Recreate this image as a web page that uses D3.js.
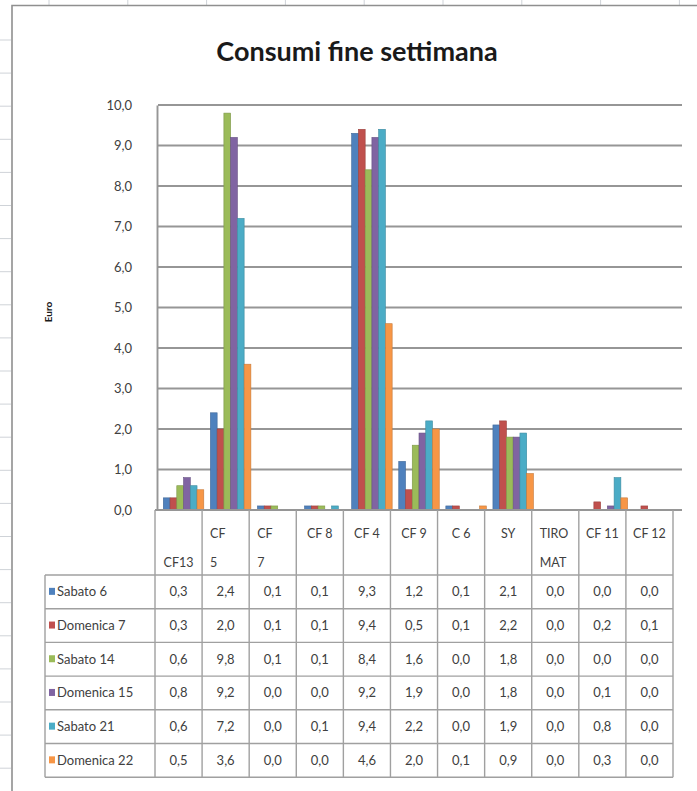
<!DOCTYPE html>
<html>
<head>
<meta charset="utf-8">
<script src="https://cdn.jsdelivr.net/npm/d3@7"></script>
<style>
  html, body { margin: 0; padding: 0; background: #fff; overflow: hidden; }
  svg { display: block; }
  text { font-family: Lato, "Open Sans", sans-serif; }
</style>
</head>
<body>
<svg id="chart" width="697" height="791"></svg>
<script>
// Weekend spending per vending item (euro)
const categories = ["CF13", "CF 5", "CF 7", "CF 8", "CF 4", "CF 9", "C 6", "SY", "TIRO MAT", "CF 11", "CF 12"];
// Header lines as written in the data table
const categoryLines = [["", "CF13"], ["CF", "5"], ["CF", "7"], ["CF 8"], ["CF 4"], ["CF 9"], ["C 6"], ["SY"], ["TIRO", "MAT"], ["CF 11"], ["CF 12"]];
const seriesNames = ["Sabato 6", "Domenica 7", "Sabato 14", "Domenica 15", "Sabato 21", "Domenica 22"];
const sabato6    = [0.3, 2.4, 0.1, 0.1, 9.3, 1.2, 0.1, 2.1, 0.0, 0.0, 0.0];
const domenica7  = [0.3, 2.0, 0.1, 0.1, 9.4, 0.5, 0.1, 2.2, 0.0, 0.2, 0.1];
const sabato14   = [0.6, 9.8, 0.1, 0.1, 8.4, 1.6, 0.0, 1.8, 0.0, 0.0, 0.0];
const domenica15 = [0.8, 9.2, 0.0, 0.0, 9.2, 1.9, 0.0, 1.8, 0.0, 0.1, 0.0];
const sabato21   = [0.6, 7.2, 0.0, 0.1, 9.4, 2.2, 0.0, 1.9, 0.0, 0.8, 0.0];
const domenica22 = [0.5, 3.6, 0.0, 0.0, 4.6, 2.0, 0.1, 0.9, 0.0, 0.3, 0.0];
const yTicks = [0, 1, 2, 3, 4, 5, 6, 7, 8, 9, 10];
const colors = ["#4F81BD", "#C0504D", "#9BBB59", "#8064A2", "#4BACC6", "#F79646"];

const seriesValues = [sabato6, domenica7, sabato14, domenica15, sabato21, domenica22];
const series = seriesNames.map((name, i) => ({ name, color: colors[i], values: seriesValues[i] }));

const fmt = v => d3.format(".1f")(v).replace(".", ",");

const svg = d3.select("#chart");

// Worksheet cells showing around the chart object
const sheet = svg.append("g").attr("stroke", "#cfd3d8").attr("stroke-width", 1);
d3.range(40, 791, 33.1).forEach(y => {
  sheet.append("line").attr("x1", 0).attr("x2", 11).attr("y1", y).attr("y2", y);
});
d3.range(49, 697, 78.8).forEach(x => {
  sheet.append("line").attr("x1", x).attr("x2", x).attr("y1", 0).attr("y2", 5);
});

// Chart object frame (runs past the right and bottom edges)
svg.append("path")
  .attr("d", "M12,791 V5.5 H697")
  .attr("fill", "none").attr("stroke", "#8f8f8f").attr("stroke-width", 1.6);

// Title
svg.append("text")
  .attr("x", 357).attr("y", 61)
  .attr("text-anchor", "middle")
  .attr("font-size", 27).attr("font-weight", "bold")
  .attr("fill", "#1a1a1a")
  .text("Consumi fine settimana");

// Scales
const y = d3.scaleLinear().domain([0, 10]).range([510, 105]);
const x = d3.scaleBand().domain(categories).range([160, 678]).padding(0);
const xs = d3.scaleBand().domain(seriesNames).range([3.3, x.bandwidth() - 3.3]).padding(0);
const col = d3.scaleBand().domain(categories).range([155, 673]).padding(0);

// Gridlines
svg.append("g").selectAll("line").data(yTicks.filter(t => t > 0)).join("line")
  .attr("x1", 158).attr("x2", 682)
  .attr("y1", d => y(d)).attr("y2", d => y(d))
  .attr("stroke", "#969696").attr("stroke-width", 1.9);

// Value axis
const yAxis = svg.append("g").attr("transform", "translate(157,0)")
  .call(d3.axisLeft(y).tickValues(yTicks).tickFormat(fmt).tickSize(0).tickPadding(25));
yAxis.select(".domain").attr("stroke", "#969696").attr("stroke-width", 1.9);
yAxis.selectAll("text").attr("font-size", 13).attr("fill", "#404040")
  .attr("font-family", "Lato, Open Sans, sans-serif");

svg.append("text")
  .attr("transform", "translate(52,312) rotate(-90)")
  .attr("text-anchor", "middle")
  .attr("font-size", 10).attr("font-weight", "bold")
  .attr("fill", "#1a1a1a")
  .text("Euro");

// Bars
svg.append("g").selectAll("g").data(series).join("g")
  .attr("fill", d => d.color)
  .selectAll("rect")
  .data(s => s.values.map((v, i) => ({ v, cat: categories[i], name: s.name, color: s.color })))
  .join("rect")
  .attr("x", d => x(d.cat) + xs(d.name))
  .attr("width", xs.bandwidth())
  .attr("y", d => y(d.v))
  .attr("height", d => y(0) - y(d.v))
  .attr("stroke", d => d3.color(d.color).darker(0.6))
  .attr("stroke-width", 0.6);

// Category axis line
svg.append("line")
  .attr("x1", 155).attr("x2", 682).attr("y1", y(0)).attr("y2", y(0))
  .attr("stroke", "#969696").attr("stroke-width", 1.9);

// Data table
const rowTop = 575, rowH = 33.7;
const tableBottom = rowTop + rowH * series.length;
const tbl = svg.append("g").attr("stroke", "#a0a0a0").attr("stroke-width", 1.4);
col.domain().forEach(c => {
  tbl.append("line").attr("x1", col(c)).attr("x2", col(c)).attr("y1", y(0)).attr("y2", tableBottom);
});
tbl.append("line").attr("x1", 673).attr("x2", 673).attr("y1", y(0)).attr("y2", tableBottom);
tbl.append("line").attr("x1", 45).attr("x2", 45).attr("y1", rowTop).attr("y2", tableBottom);
d3.range(series.length + 1).forEach(i => {
  const yy = rowTop + i * rowH;
  tbl.append("line").attr("x1", 45).attr("x2", 673).attr("y1", yy).attr("y2", yy);
});

// Category headers
const head = svg.append("g").attr("font-size", 12.5).attr("fill", "#404040");
categories.forEach((c, i) => {
  const lines = categoryLines[i];
  lines.forEach((ln, j) => {
    if (!ln) return;
    const t = head.append("text").attr("y", 538 + j * 29).text(ln);
    if (lines.length > 1 && lines[0]) {
      t.attr("x", col(c) + 8).attr("text-anchor", "start");
    } else {
      t.attr("x", col(c) + col.bandwidth() / 2).attr("text-anchor", "middle");
    }
  });
});

// Rows: legend key + values
const rows = svg.append("g").selectAll("g").data(series).join("g")
  .attr("transform", (d, i) => `translate(0,${rowTop + i * rowH + rowH / 2})`);
rows.append("rect")
  .attr("x", 49).attr("y", -4).attr("width", 6).attr("height", 7)
  .attr("fill", d => d.color);
rows.append("text")
  .attr("x", 57).attr("y", 4.5)
  .attr("font-size", 13).attr("fill", "#404040")
  .text(d => d.name);
rows.selectAll("text.val")
  .data(d => d.values.map((v, i) => ({ v, cat: categories[i] })))
  .join("text").attr("class", "val")
  .attr("x", d => col(d.cat) + col.bandwidth() / 2)
  .attr("y", 4.5)
  .attr("text-anchor", "middle")
  .attr("font-size", 13).attr("fill", "#404040")
  .text(d => fmt(d.v));

// Blank margin right of the plot area
svg.append("rect")
  .attr("x", 684).attr("y", 7).attr("width", 13).attr("height", 784)
  .attr("fill", "#fff");
</script>
</body>
</html>
